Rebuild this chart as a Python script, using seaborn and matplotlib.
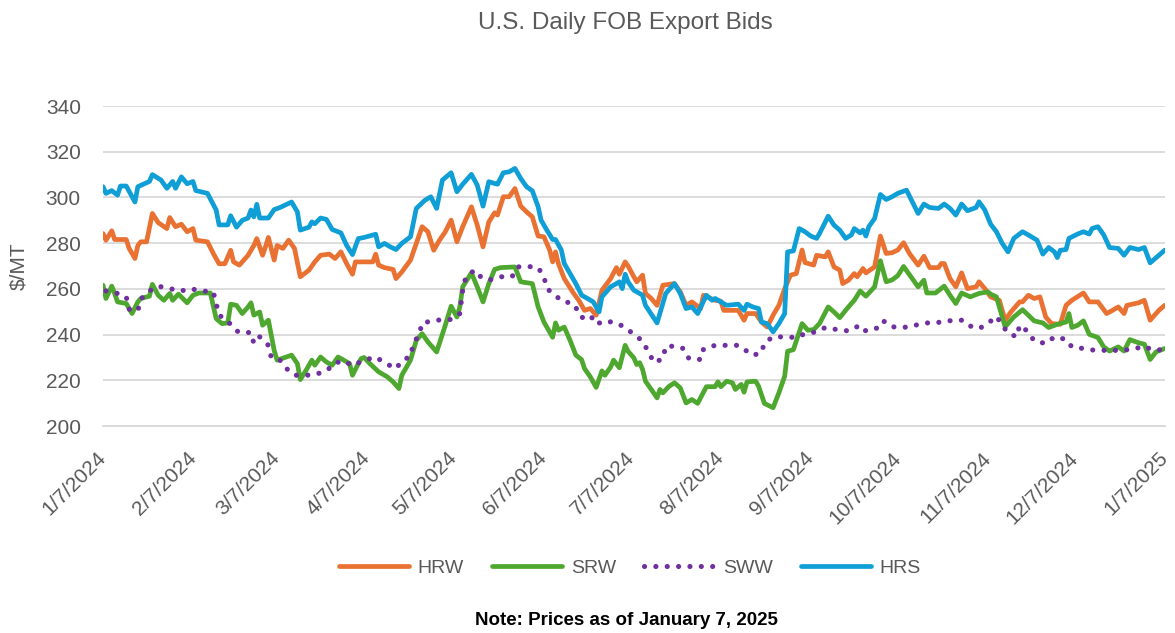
import pandas as pd
import seaborn as sns
import matplotlib.pyplot as plt

# data: day offset from 1/7/2024 and bid in $/MT
start_date = "2024-01-07"

hrw_day = [0, 1, 3, 4, 8, 9, 11, 12, 13, 15, 17, 19, 22, 23, 25, 27, 29, 31, 32, 36, 38, 40, 42, 44, 45, 47, 50,
           52, 53, 55, 56, 57, 59, 60, 62, 64, 66, 68, 71, 73, 75, 78, 80, 82, 84, 86, 87, 90, 93, 94, 95, 97, 100,
           101, 103, 106, 108, 110, 112, 114, 116, 118, 120, 122, 124, 127, 129, 131, 133, 135, 136, 138, 140, 142,
           144, 146, 148, 150, 152, 154, 155, 156, 157, 159, 162, 164, 166, 168, 170, 172, 175, 177, 178, 180, 181,
           183, 184, 186, 187, 189, 191, 193, 197, 199, 201, 203, 206, 207, 211, 213, 214, 219, 221, 222, 225, 227,
           229, 231, 233, 235, 237, 239, 241, 242, 245, 246, 249, 250, 252, 254, 255, 257, 259, 260, 262, 263, 266,
           268, 270, 272, 274, 276, 278, 281, 283, 285, 288, 289, 290, 292, 294, 296, 298, 301, 302, 304, 306, 309,
           311, 313, 316, 317, 319, 321, 323, 325, 327, 330, 332, 334, 338, 340, 343, 346, 348, 350, 352, 353, 357,
           359, 361, 364, 366]
hrw_val = [284.2, 281.3, 285.4, 281.6, 281.6, 277.7, 273.3, 279.0, 280.6, 280.6, 293.0, 289.0, 286.4, 291.2, 287.2,
           288.3, 285.0, 286.4, 281.3, 280.6, 275.5, 271.0, 271.0, 276.9, 271.8, 270.4, 274.7, 279.0, 282.0, 274.7,
           278.4, 282.5, 272.6, 279.0, 277.7, 281.3, 277.7, 265.3, 268.2, 271.8, 274.7, 275.2, 273.3, 276.2, 271.0,
           266.4, 271.8, 271.8, 271.8, 275.2, 270.4, 269.3, 268.5, 264.5, 267.4, 272.6, 279.9, 287.2, 285.0, 276.9,
           281.3, 285.0, 290.1, 280.6, 287.2, 295.9, 287.9, 278.4, 289.3, 293.3, 292.3, 300.3, 300.3, 303.9, 296.2,
           293.7, 291.5, 283.1, 282.8, 276.9, 271.8, 276.2, 271.0, 264.5, 258.5, 255.0, 250.6, 251.4, 248.5, 259.4,
           264.5, 269.3, 266.4, 271.8, 270.0, 265.3, 263.1, 266.0, 258.0, 255.8, 252.8, 261.6, 262.3, 258.7, 252.8,
           254.3, 251.4, 257.2, 255.0, 254.6, 250.6, 250.6, 246.3, 249.2, 249.2, 245.5, 243.3, 248.5, 252.8, 260.1,
           266.0, 266.7, 277.0, 271.5, 270.4, 274.7, 274.0, 276.2, 269.6, 268.2, 262.3, 263.8, 266.7, 265.3, 268.9,
           267.0, 269.6, 283.1, 275.5, 275.8, 277.0, 280.2, 275.5, 270.4, 274.3, 269.3, 269.3, 271.1, 271.1, 264.5,
           260.9, 267.0, 260.1, 260.9, 263.1, 260.1, 256.5, 255.0, 246.3, 249.9, 254.3, 254.3, 257.2, 255.8, 256.5,
           247.7, 244.8, 244.5, 252.8, 255.0, 258.2, 254.3, 254.3, 249.2, 250.6, 252.1, 249.2, 252.8, 253.9, 255.0,
           246.3, 250.6, 252.8]

srw_day = [0, 1, 3, 4, 5, 8, 10, 12, 13, 16, 17, 19, 21, 23, 24, 26, 29, 31, 33, 37, 39, 41, 43, 44, 46, 48, 50,
           51, 52, 54, 55, 57, 59, 60, 65, 67, 68, 70, 72, 73, 75, 77, 79, 81, 83, 85, 86, 88, 89, 90, 92, 95, 98,
           100, 102, 103, 106, 108, 110, 112, 115, 118, 120, 122, 123, 124, 127, 129, 131, 133, 135, 137, 142, 144,
           148, 150, 152, 155, 156, 157, 159, 161, 163, 165, 166, 168, 170, 172, 173, 175, 176, 178, 180, 181, 183,
           184, 185, 186, 187, 189, 191, 192, 193, 195, 197, 199, 201, 203, 205, 206, 208, 211, 212, 213, 215, 217,
           218, 220, 221, 222, 225, 226, 228, 231, 233, 235, 236, 238, 241, 243, 245, 247, 250, 252, 254, 256, 258,
           259, 261, 263, 266, 268, 270, 272, 274, 276, 279, 281, 283, 284, 287, 290, 292, 294, 296, 299, 302, 305,
           306, 308, 311, 314, 317, 319, 321, 324, 326, 329, 332, 333, 334, 336, 338, 340, 343, 345, 347, 350, 352,
           354, 357, 359, 361, 363, 366]
srw_val = [261.6, 255.8, 261.2, 258.0, 254.3, 253.6, 249.2, 254.3, 255.8, 256.8, 262.0, 257.2, 255.0, 258.0, 255.0,
           257.7, 253.9, 257.2, 258.2, 258.2, 247.0, 244.8, 245.1, 253.3, 252.8, 249.2, 252.1, 253.9, 248.5, 249.9,
           244.1, 246.3, 233.1, 228.8, 231.0, 227.3, 220.3, 224.4, 228.8, 226.6, 230.2, 228.0, 226.6, 230.2, 228.8,
           227.3, 222.2, 227.3, 229.5, 230.0, 227.3, 223.7, 221.5, 219.3, 216.4, 222.2, 228.8, 237.5, 240.4, 236.8,
           232.4, 244.1, 252.4, 247.7, 252.1, 260.9, 267.0, 260.9, 254.3, 262.3, 268.5, 269.3, 269.6, 263.1, 262.3,
           252.1, 245.5, 238.8, 245.1, 241.9, 243.3, 237.5, 231.0, 229.0, 225.1, 221.5, 216.9, 224.1, 222.2, 225.8,
           228.8, 225.5, 235.3, 232.7, 229.8, 226.9, 227.7, 224.8, 219.6, 216.0, 212.3, 216.0, 214.5, 217.2, 218.9,
           216.7, 210.1, 211.6, 209.9, 212.3, 217.2, 217.2, 219.3, 217.2, 219.6, 218.9, 216.0, 218.2, 214.8, 219.3,
           219.6, 217.4, 209.9, 208.0, 214.5, 221.8, 232.7, 233.4, 244.8, 241.9, 242.2, 244.8, 252.1, 249.9, 247.4,
           250.6, 253.6, 255.0, 259.1, 256.8, 260.9, 272.3, 263.1, 263.9, 265.8, 269.8, 264.5, 260.9, 263.8, 258.2,
           258.2, 261.2, 257.2, 253.6, 258.2, 256.5, 258.0, 258.7, 257.7, 256.5, 243.4, 247.7, 250.9, 248.5, 246.0,
           245.1, 243.1, 244.5, 245.5, 249.2, 243.1, 244.1, 246.0, 240.1, 238.7, 234.6, 232.8, 234.6, 232.8, 237.8,
           236.4, 235.8, 229.1, 232.4, 233.9]

sww_day = [1, 5, 8, 9, 12, 13, 16, 19, 23, 27, 30, 34, 38, 39, 40, 43, 45, 47, 51, 52, 54, 57, 58, 61, 63, 66, 70,
           73, 77, 80, 83, 86, 90, 94, 97, 101, 103, 106, 107, 109, 110, 113, 117, 120, 123, 124, 125, 128, 130, 133,
           137, 141, 143, 146, 150, 152, 153, 156, 158, 162, 164, 165, 168, 170, 173, 177, 180, 183, 186, 188, 190,
           193, 194, 198, 200, 202, 206, 207, 211, 214, 219, 221, 224, 227, 228, 231, 235, 239, 242, 246, 249, 253,
           257, 261, 263, 267, 269, 272, 276, 280, 284, 287, 291, 296, 298, 302, 305, 308, 310, 312, 315, 316, 319,
           321, 325, 328, 332, 334, 338, 342, 347, 351, 355, 359, 362, 366]
sww_val = [259.1, 258.0, 256.5, 251.1, 250.4, 255.5, 259.1, 261.2, 260.1, 259.1, 260.1, 259.1, 258.7, 253.6, 248.5,
           246.0, 242.6, 240.9, 240.9, 236.1, 239.0, 235.3, 229.9, 228.8, 225.4, 222.2, 222.2, 222.5, 224.1, 227.6,
           228.5, 226.4, 228.8, 230.2, 227.7, 225.1, 228.5, 230.5, 236.1, 240.1, 245.1, 245.8, 246.6, 246.6, 249.2,
           259.6, 264.8, 268.2, 265.5, 263.8, 265.3, 265.3, 269.6, 269.9, 269.3, 265.3, 260.1, 257.2, 254.7, 253.6,
           249.9, 247.4, 248.5, 244.5, 246.0, 245.1, 243.1, 240.1, 237.2, 232.4, 227.7, 229.5, 234.9, 234.9, 233.9,
           229.5, 229.1, 233.6, 235.3, 235.3, 235.3, 233.6, 230.9, 232.1, 236.4, 239.0, 239.0, 238.7, 240.4, 241.2,
           243.1, 242.2, 241.6, 244.1, 241.6, 242.9, 246.0, 243.4, 243.1, 244.1, 245.1, 245.1, 246.0, 246.3, 244.1,
           242.6, 244.8, 248.0, 244.1, 240.7, 239.0, 244.1, 241.2, 237.2, 236.1, 239.0, 237.9, 234.6, 233.9, 233.1,
           233.1, 233.1, 233.6, 234.9, 233.1, 233.5]

hrs_day = [0, 1, 3, 5, 6, 8, 11, 12, 16, 17, 20, 22, 24, 25, 27, 29, 31, 32, 36, 39, 40, 43, 44, 46, 48, 50, 51,
           52, 53, 54, 57, 59, 61, 65, 67, 68, 71, 72, 73, 75, 77, 79, 82, 84, 86, 88, 90, 94, 95, 97, 99, 101, 103,
           106, 108, 111, 113, 115, 117, 120, 122, 124, 127, 129, 131, 133, 135, 136, 138, 140, 142, 144, 146, 148,
           150, 151, 153, 155, 156, 158, 159, 161, 163, 165, 167, 169, 171, 172, 175, 177, 178, 179, 180, 181, 183,
           185, 186, 187, 191, 193, 194, 197, 199, 201, 203, 205, 208, 210, 211, 213, 215, 219, 221, 222, 224, 226,
           227, 229, 231, 233, 235, 236, 238, 240, 242, 244, 246, 247, 250, 252, 254, 256, 258, 259, 261, 262, 263,
           264, 266, 268, 270, 272, 274, 277, 279, 281, 283, 285, 288, 290, 292, 294, 296, 298, 301, 302, 304, 306,
           308, 310, 312, 314, 317, 319, 322, 324, 326, 328, 329, 330, 332, 333, 336, 338, 340, 341, 343, 345, 347,
           350, 352, 354, 357, 359, 361, 364, 366]
hrs_val = [304.7, 301.8, 303.0, 301.0, 305.0, 305.0, 298.0, 304.7, 307.0, 310.0, 307.6, 304.0, 307.0, 304.0, 309.0,
           306.0, 307.0, 303.0, 301.8, 294.5, 288.0, 288.0, 292.0, 287.0, 290.0, 291.0, 294.5, 291.5, 297.0, 291.0,
           291.0, 294.7, 295.6, 298.0, 293.7, 285.7, 287.0, 289.3, 288.5, 291.0, 290.4, 286.0, 284.5, 279.0, 275.0,
           282.0, 282.5, 283.9, 278.4, 279.9, 278.4, 277.2, 279.9, 282.8, 295.2, 298.8, 300.3, 295.2, 307.6, 310.8,
           302.5, 305.8, 310.1, 305.4, 296.2, 306.9, 306.1, 305.8, 310.8, 311.2, 312.7, 308.3, 304.7, 302.9, 295.9,
           290.1, 285.7, 281.6, 281.6, 277.0, 271.1, 266.7, 262.3, 257.2, 255.8, 254.3, 249.9, 256.5, 260.9, 262.3,
           263.1, 260.1, 266.4, 263.1, 259.4, 258.0, 257.2, 252.8, 245.1, 253.6, 258.0, 262.3, 258.0, 251.4, 252.1,
           249.2, 257.2, 255.0, 255.8, 254.3, 252.8, 253.3, 250.6, 253.3, 252.1, 251.4, 245.5, 244.8, 241.2, 244.8,
           249.2, 276.2, 276.6, 286.4, 285.0, 283.1, 282.1, 284.2, 291.8, 287.9, 285.7, 282.1, 283.6, 286.4, 284.5,
           285.7, 283.1, 287.2, 290.8, 301.3, 299.1, 300.3, 301.8, 303.2, 298.1, 293.0, 297.1, 295.6, 295.2, 297.1,
           295.2, 292.3, 297.1, 294.2, 295.6, 298.1, 294.5, 288.3, 285.0, 279.9, 276.2, 282.1, 285.0, 283.6, 281.3,
           275.2, 278.1, 276.2, 273.7, 276.9, 277.2, 282.1, 284.0, 285.0, 284.0, 286.4, 287.2, 283.6, 278.1, 277.7,
           274.7, 278.1, 277.2, 278.1, 271.4, 274.7, 276.9]

series_names = ["HRW", "SRW", "SWW", "HRS"]
tick_labels = ["1/7/2024", "2/7/2024", "3/7/2024", "4/7/2024", "5/7/2024", "6/7/2024", "7/7/2024",
               "8/7/2024", "9/7/2024", "10/7/2024", "11/7/2024", "12/7/2024", "1/7/2025"]
y_ticks = [200, 220, 240, 260, 280, 300, 320, 340]

colors = {"HRW": "#E97132", "SRW": "#4EA72E", "SWW": "#7030A0", "HRS": "#0F9ED5"}
gray_text = "#595959"
grid_col = "#D9D9D9"

sns.set_style("white")
plt.rcParams['font.family'] = ['Liberation Sans', 'DejaVu Sans']


def make_frame(days, vals, name):
    return pd.DataFrame({
        "date": pd.Timestamp(start_date) + pd.to_timedelta(days, unit="D"),
        "price": vals,
        "class": name,
    })


frames = {
    "HRW": make_frame(hrw_day, hrw_val, "HRW"),
    "SRW": make_frame(srw_day, srw_val, "SRW"),
    "SWW": make_frame(sww_day, sww_val, "SWW"),
    "HRS": make_frame(hrs_day, hrs_val, "HRS"),
}

fig = plt.figure(figsize=(11.75, 6.33), dpi=100)
ax = fig.add_axes([0.0877, 0.327, 0.9035, 0.5055])

for name in series_names:
    if name == "SWW":
        style = dict(linestyle=(0, (0.01, 2.2)), dash_capstyle="round", linewidth=3.7)
    else:
        style = dict(linestyle="-", solid_joinstyle="round", solid_capstyle="round", linewidth=3.4)
    sns.lineplot(data=frames[name], x="date", y="price", color=colors[name], label=name, ax=ax, **style)

tick_pos = pd.to_datetime(tick_labels, format="%m/%d/%Y")
ax.set_xlim(tick_pos[0], tick_pos[-1])
ax.set_ylim(200, 340)
ax.set_xticks(tick_pos)
ax.set_xticklabels(tick_labels, rotation=45, ha="right", va="center", rotation_mode="anchor")
ax.set_yticks(y_ticks)
ax.set_yticklabels([str(v) for v in y_ticks])

ax.grid(axis="y", color=grid_col, linewidth=1.3)
ax.set_axisbelow(True)
for side in ["top", "right", "left"]:
    ax.spines[side].set_visible(False)
ax.spines["bottom"].set_color(grid_col)
ax.spines["bottom"].set_linewidth(1.3)

ax.tick_params(axis="x", direction="out", length=6, width=1.2, color=grid_col,
               labelsize=15, labelcolor=gray_text, pad=15)
ax.tick_params(axis="y", length=0, labelsize=15, labelcolor=gray_text, pad=16)

ax.set_xlabel("")
ax.set_ylabel("$/MT", fontsize=15, color=gray_text)
ax.yaxis.set_label_coords(-0.07, 0.5)

ax.get_legend().remove()
handles, labels = ax.get_legend_handles_labels()
fig.legend(handles, labels, loc="center", bbox_to_anchor=(0.536, 0.103), ncol=4, frameon=False,
           fontsize=14, labelcolor=gray_text, handlelength=3.6, handletextpad=0.45, columnspacing=1.45)

fig.text(0.532, 0.964, "U.S. Daily FOB Export Bids", ha="center", va="center", fontsize=17.5, color=gray_text)
fig.text(0.533, 0.02, "Note: Prices as of January 7, 2025", ha="center", va="center",
         fontsize=13.5, fontweight="bold", color="black")

fig.savefig("out.png", dpi=100)
